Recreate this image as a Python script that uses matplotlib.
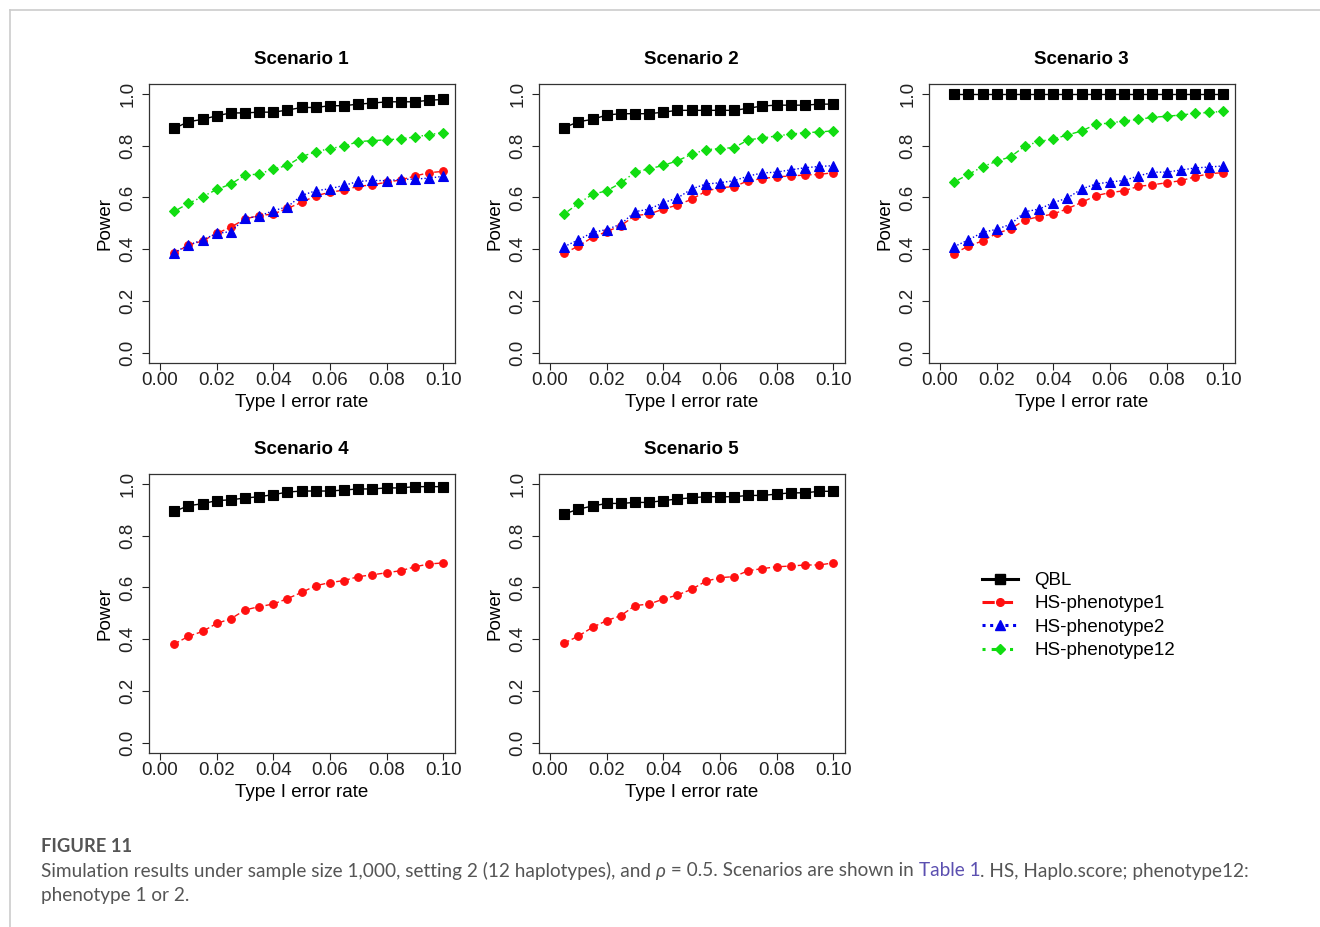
import matplotlib
matplotlib.use("Agg")
import matplotlib.pyplot as plt
from matplotlib.lines import Line2D

plt.rcParams['font.family'] = ['Liberation Sans', 'DejaVu Sans']

# Type I error rate (x axis)
error_rate = [0.005, 0.010, 0.015, 0.020, 0.025, 0.030, 0.035, 0.040, 0.045, 0.050,
              0.055, 0.060, 0.065, 0.070, 0.075, 0.080, 0.085, 0.090, 0.095, 0.100]

scenarios = ["Scenario 1", "Scenario 2", "Scenario 3", "Scenario 4", "Scenario 5"]
series_names = ["QBL", "HS-phenotype1", "HS-phenotype2", "HS-phenotype12"]

# Scenario 1
qbl_s1 = [0.867, 0.893, 0.902, 0.916, 0.927, 0.927, 0.930, 0.930, 0.938, 0.948,
          0.948, 0.955, 0.955, 0.961, 0.965, 0.970, 0.970, 0.970, 0.976, 0.979]
hs1_s1 = [0.384, 0.416, 0.432, 0.461, 0.485, 0.517, 0.530, 0.536, 0.558, 0.581,
          0.607, 0.620, 0.629, 0.643, 0.649, 0.659, 0.668, 0.683, 0.696, 0.701]
hs2_s1 = [0.387, 0.416, 0.436, 0.461, 0.468, 0.519, 0.528, 0.549, 0.564, 0.608,
          0.626, 0.634, 0.647, 0.662, 0.666, 0.665, 0.670, 0.671, 0.675, 0.682]
hs12_s1 = [0.546, 0.577, 0.603, 0.631, 0.652, 0.686, 0.691, 0.710, 0.724, 0.758,
           0.777, 0.789, 0.799, 0.816, 0.820, 0.823, 0.827, 0.834, 0.843, 0.851]

# Scenario 2
qbl_s2 = [0.870, 0.893, 0.902, 0.919, 0.924, 0.924, 0.924, 0.930, 0.937, 0.937,
          0.937, 0.937, 0.937, 0.945, 0.954, 0.957, 0.957, 0.957, 0.961, 0.961]
hs1_s2 = [0.384, 0.412, 0.446, 0.468, 0.491, 0.530, 0.536, 0.555, 0.571, 0.593,
          0.624, 0.638, 0.642, 0.665, 0.673, 0.680, 0.683, 0.687, 0.689, 0.696]
hs2_s2 = [0.410, 0.436, 0.465, 0.476, 0.497, 0.545, 0.555, 0.580, 0.598, 0.633,
          0.652, 0.657, 0.665, 0.683, 0.695, 0.698, 0.707, 0.715, 0.720, 0.723]
hs12_s2 = [0.536, 0.577, 0.612, 0.626, 0.656, 0.698, 0.711, 0.724, 0.742, 0.767,
           0.785, 0.789, 0.793, 0.823, 0.830, 0.838, 0.845, 0.851, 0.853, 0.858]

# Scenario 3
qbl_s3 = [1.000, 1.000, 1.000, 1.000, 1.000, 1.000, 1.000, 1.000, 1.000, 1.000,
          1.000, 1.000, 1.000, 1.000, 1.000, 1.000, 1.000, 1.000, 1.000, 1.000]
hs1_s3 = [0.383, 0.412, 0.432, 0.461, 0.479, 0.513, 0.526, 0.536, 0.557, 0.581,
          0.607, 0.619, 0.626, 0.643, 0.649, 0.657, 0.665, 0.680, 0.692, 0.696]
hs2_s3 = [0.410, 0.436, 0.465, 0.477, 0.497, 0.545, 0.555, 0.580, 0.598, 0.633,
          0.652, 0.660, 0.666, 0.683, 0.698, 0.698, 0.706, 0.714, 0.718, 0.722]
hs12_s3 = [0.660, 0.689, 0.719, 0.740, 0.758, 0.799, 0.817, 0.826, 0.842, 0.857,
           0.883, 0.888, 0.896, 0.902, 0.910, 0.914, 0.919, 0.925, 0.929, 0.933]

# Scenario 4 (only QBL and HS-phenotype1)
qbl_s4 = [0.894, 0.916, 0.924, 0.936, 0.939, 0.946, 0.951, 0.959, 0.969, 0.973,
          0.973, 0.973, 0.977, 0.981, 0.981, 0.985, 0.985, 0.990, 0.990, 0.990]
hs1_s4 = [0.381, 0.411, 0.430, 0.461, 0.479, 0.513, 0.526, 0.536, 0.557, 0.581,
          0.607, 0.619, 0.627, 0.642, 0.649, 0.657, 0.665, 0.680, 0.691, 0.695]

# Scenario 5 (only QBL and HS-phenotype1)
qbl_s5 = [0.884, 0.903, 0.915, 0.925, 0.925, 0.929, 0.929, 0.936, 0.942, 0.947,
          0.951, 0.951, 0.951, 0.956, 0.956, 0.961, 0.966, 0.966, 0.972, 0.972]
hs1_s5 = [0.385, 0.412, 0.446, 0.472, 0.491, 0.530, 0.536, 0.555, 0.571, 0.593,
          0.624, 0.638, 0.642, 0.665, 0.673, 0.680, 0.683, 0.687, 0.687, 0.695]

panel_data = [
    [qbl_s1, hs1_s1, hs2_s1, hs12_s1],
    [qbl_s2, hs1_s2, hs2_s2, hs12_s2],
    [qbl_s3, hs1_s3, hs2_s3, hs12_s3],
    [qbl_s4, hs1_s4, None, None],
    [qbl_s5, hs1_s5, None, None],
]

# colour, marker, linestyle, markersize per series
styles = [
    ("black", "s", "-", 7.0),
    ("#ff1010", "o", (0, (4, 2)), 5.5),
    ("#0000ee", "^", (0, (1, 1.5)), 7.0),
    ("#11dd11", "D", (0, (1, 2, 4, 2)), 5.0),
]

W, H = 1320, 927
fig = plt.figure(figsize=(W / 100, H / 100), dpi=100)

# page frame lines (grey border of the web page)
fig.add_artist(Line2D([10 / W, 1.0], [1 - 10 / H, 1 - 10 / H], color="#cccccc", lw=1.2))
fig.add_artist(Line2D([10 / W, 10 / W], [0, 1 - 10 / H], color="#cccccc", lw=1.2))

ax_w, ax_h = 305.9, 279.3
lefts = [148.7, 538.7, 928.7, 148.7, 538.7]
tops = [83.7, 83.7, 83.7, 473.7, 473.7]

for k, name in enumerate(scenarios):
    ax = fig.add_axes([lefts[k] / W, 1 - (tops[k] + ax_h) / H, ax_w / W, ax_h / H])
    for data, (c, m, ls, ms) in zip(panel_data[k], styles):
        if data is None:
            continue
        ax.plot(error_rate, data, color=c, marker=m, linestyle=ls, markersize=ms,
                linewidth=1.0, markeredgewidth=0.8)
    ax.set_xlim(-0.004, 0.104)
    ax.set_ylim(-0.04, 1.04)
    ax.set_xticks([0.00, 0.02, 0.04, 0.06, 0.08, 0.10])
    ax.set_xticklabels(["0.00", "0.02", "0.04", "0.06", "0.08", "0.10"])
    ax.set_yticks([0.0, 0.2, 0.4, 0.6, 0.8, 1.0])
    ax.set_yticklabels(["0.0", "0.2", "0.4", "0.6", "0.8", "1.0"], rotation=90, va="center")
    ax.tick_params(direction="out", length=5, width=0.8, colors="#222222",
                   labelsize=13.5)
    ax.tick_params(axis="x", pad=1.5)
    ax.tick_params(axis="y", pad=4)
    for sp in ax.spines.values():
        sp.set_color("#333333")
        sp.set_linewidth(0.9)
    ax.set_xlabel("Type I error rate", fontsize=13.5)
    ax.set_ylabel("Power", fontsize=13.5)
    ax.xaxis.set_label_coords(0.5, -0.11)
    ax.yaxis.set_label_coords(-0.115, 0.5)
    ax.text(0.5, 1.085, name, transform=ax.transAxes, ha="center", va="center",
            fontsize=13.5, fontweight="bold")

# legend in the empty sixth cell
handles = [Line2D([], [], color=c, marker=m, linestyle=ls, markersize=ms, linewidth=2.2)
           for (c, m, ls, ms) in styles]
fig.legend(handles, series_names, loc="upper left", bbox_to_anchor=(982 / W, 1 - 572 / H),
           frameon=False, fontsize=13.5, handlelength=1.9, handletextpad=0.9,
           labelspacing=0.33, borderpad=0, borderaxespad=0)

# caption
cap_font = ["Lato", "DejaVu Sans"]
fig.text(41 / W, 1 - 847 / H, "FIGURE 11", fontsize=13.2, fontweight="bold",
         color="#555555", va="center", family=cap_font)

renderer = fig.canvas.get_renderer()
pieces = [
    ("Simulation results under sample size 1,000, setting 2 (12 haplotypes), and ", "#555555", "normal"),
    ("\u03c1", "#555555", "italic"),
    (" = 0.5. Scenarios are shown in ", "#555555", "normal"),
    ("Table 1", "#5b4fb0", "normal"),
    (". HS, Haplo.score; phenotype12:", "#555555", "normal"),
]
x = 41
for txt, col, sty in pieces:
    t = fig.text(x / W, 1 - 871 / H, txt, fontsize=13.7, color=col, style=sty,
                 va="center", family=cap_font)
    x += t.get_window_extent(renderer).width
fig.text(41 / W, 1 - 895 / H, "phenotype 1 or 2.", fontsize=13.7, color="#555555",
         va="center", family=cap_font)

fig.savefig("out.png", dpi=100)
